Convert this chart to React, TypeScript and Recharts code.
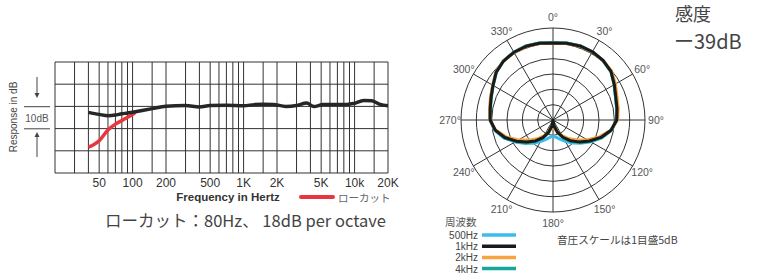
import React from 'react';
import {
  LineChart, Line, XAxis, YAxis, ReferenceLine,
  RadarChart, Radar, PolarGrid, PolarAngleAxis, PolarRadiusAxis,
} from 'recharts';

const FONT = '"Noto Sans CJK JP", "Noto Sans", sans-serif';
const LATIN = '"Liberation Sans", "Noto Sans", sans-serif';

// frequency response, dB
const respFreqs = [40, 50, 60, 70, 80, 90, 100, 150, 200, 300, 400, 500, 700, 1000, 1250, 1500, 1850, 2400, 3000, 3700, 4300, 5200, 6900, 8500, 9800, 12100, 14300, 17000, 20000];
const respDb = [-2.7, -3.6, -4.2, -3.9, -3.3, -3.0, -2.6, -1.0, 0.1, 0.4, -0.3, 0.4, 0.5, 0.3, 0.8, 1.0, 0.9, 0.0, 0.4, 1.5, -0.1, 0.8, 0.8, 0.9, 1.3, 2.7, 2.5, 0.9, 0.3];
const lowCutFreqs = [40, 50, 60, 70, 80, 90, 100, 106];
const lowCutDb = [-18.4, -15.5, -10.6, -8.0, -6.4, -4.9, -3.6, -2.8];

const gridFreqs = [20, 30, 40, 50, 60, 70, 80, 90, 100, 150, 200, 300, 400, 500, 600, 700, 800, 900, 1000, 1500, 2000, 3000, 4000, 5000, 6000, 7000, 8000, 9000, 10000, 15000, 20000];
const freqTicks = [50, 100, 200, 500, 1000, 2000, 5000, 10000, 20000];
const freqTickLabels = ['50', '100', '200', '500', '1K', '2K', '5K', '10k', '20K'];
const dbTicks = [-30, -20, -10, 0, 10, 20];

// polar pattern, dB (outer ring = 0dB, 5dB per ring)
const polarAngles = [0, 10, 20, 30, 40, 50, 60, 70, 80, 90, 100, 110, 120, 130, 140, 150, 160, 170, 180, 190, 200, 210, 220, 230, 240, 250, 260, 270, 280, 290, 300, 310, 320, 330, 340, 350];
const polar500 = [-4.8, -4.5, -4.3, -4.3, -4.6, -5.3, -6.9, -8.3, -8.9, -9.2, -10.6, -13.0, -15.8, -18.2, -20.2, -22.0, -23.4, -24.3, -24.6, -24.3, -23.3, -21.9, -20.1, -18.1, -15.7, -12.9, -10.7, -9.4, -9.1, -8.4, -7.3, -5.7, -4.8, -4.4, -4.3, -4.5];
const polar1k = [-4.9, -4.6, -4.3, -4.3, -4.6, -5.3, -6.9, -8.2, -8.8, -9.2, -10.8, -13.4, -16.3, -18.9, -21.2, -23.5, -25.8, -28.0, -30, -28.0, -25.7, -23.4, -21.1, -18.8, -16.2, -13.3, -10.9, -9.5, -9.2, -8.5, -7.4, -5.8, -4.9, -4.5, -4.4, -4.6];
const polar2k = [-5.0, -4.7, -4.4, -4.4, -4.6, -5.1, -6.5, -7.8, -8.4, -8.9, -10.9, -13.9, -17.1, -19.9, -22.1, -24.1, -25.9, -27.2, -29.5, -27.3, -25.8, -24.0, -22.0, -19.8, -17.0, -13.8, -11.0, -9.4, -9.0, -8.3, -7.3, -5.7, -4.9, -4.6, -4.5, -4.7];
const polar4k = [-4.8, -4.5, -4.2, -4.3, -4.7, -5.4, -7.0, -8.3, -8.9, -9.3, -10.7, -13.2, -16.0, -18.6, -20.9, -23.2, -25.6, -28.0, -30, -28.0, -25.5, -23.1, -20.8, -18.5, -15.9, -13.1, -10.8, -9.6, -9.3, -8.6, -7.5, -5.9, -4.9, -4.5, -4.3, -4.5];

const polarSeries = [
  { key: 'f500', name: '500Hz', color: '#3cbcee' },
  { key: 'f1k', name: '1kHz', color: '#1a1a1a' },
  { key: 'f2k', name: '2kHz', color: '#f7a440' },
  { key: 'f4k', name: '4kHz', color: '#16a69a' },
];
const drawOrder = ['f500', 'f4k', 'f2k', 'f1k'];

const respData = respFreqs.map((f, i) => ({ f, db: respDb[i] }));
const lowCutData = lowCutFreqs.map((f, i) => ({ f, db: lowCutDb[i] }));
const polarData = polarAngles.map((a, i) => ({
  angle: a, f500: polar500[i], f1k: polar1k[i], f2k: polar2k[i], f4k: polar4k[i],
}));

const spokeAngles = polarAngles.filter((a) => a % 30 === 0 && a % 90 !== 0).map((a) => 90 - a);
const axisAngles = polarAngles.filter((a) => a % 90 === 0).map((a) => 90 - a);

const AngleTick = (props: any) => {
  const { x, y, payload } = props;
  const deg = Number(payload.value);
  if (deg % 30 !== 0) return <g />;
  return (
    <text x={x} y={y} textAnchor="middle" dominantBaseline="central" fontSize={10.5} fill="#555" fontFamily={LATIN}>
      {deg}°
    </text>
  );
};

export default function App() {
  return (
    <div style={{ position: 'absolute', left: 0, top: 0, width: 760, height: 280, background: '#fff', fontFamily: FONT }}>
      <div style={{ position: 'absolute', left: 0, top: 0 }}>
        <LineChart width={400} height={200} margin={{ top: 62, right: 12, left: 55, bottom: 7 }}>
          {dbTicks.map((d) => (
            <ReferenceLine key={'y' + d} y={d} stroke="#333" strokeWidth={1} />
          ))}
          {gridFreqs.map((f) => (
            <ReferenceLine key={f} x={f} stroke="#333" strokeWidth={1} />
          ))}
          <XAxis
            dataKey="f"
            type="number"
            scale="log"
            domain={[20, 20000]}
            allowDataOverflow
            ticks={freqTicks}
            interval={0}
            tickFormatter={(v: number) => freqTickLabels[freqTicks.indexOf(v)] ?? ''}
            axisLine={false}
            tickLine={false}
            tickSize={4}
            tickMargin={1}
            height={20}
            tick={{ fontSize: 12, fill: '#333', fontFamily: LATIN }}
          />
          <YAxis hide type="number" domain={[-30, 20]} ticks={dbTicks} allowDataOverflow />
          <Line data={lowCutData} dataKey="db" type="monotone" stroke="#e8363f" strokeWidth={3.5} dot={false} isAnimationActive={false} />
          <Line data={respData} dataKey="db" type="monotone" stroke="#262626" strokeWidth={3.5} dot={false} isAnimationActive={false} />
        </LineChart>
      </div>

      <div style={{ position: 'absolute', left: 433, top: 0 }}>
        <RadarChart width={240} height={240} cx={120} cy={120} outerRadius={92} startAngle={90} endAngle={-270} data={polarData} margin={{ top: 0, right: 0, bottom: 0, left: 0 }}>
          <PolarGrid gridType="circle" polarAngles={spokeAngles} innerRadius={15.3} stroke="#333" strokeOpacity={1} />
          <PolarGrid gridType="circle" polarAngles={axisAngles} polarRadius={[0]} stroke="#333" strokeOpacity={1} />
          <PolarRadiusAxis domain={[-30, 0]} tickCount={7} allowDataOverflow tick={false} axisLine={false} />
          <PolarAngleAxis dataKey="angle" tick={<AngleTick />} tickLine={false} axisLine={false} tickSize={11} />
          {drawOrder.map((k) => {
            const s = polarSeries.find((p) => p.key === k)!;
            return (
              <Radar key={k} dataKey={k} stroke={s.color} strokeWidth={3} strokeLinejoin="round" fill="none" fillOpacity={0} dot={false} isAnimationActive={false} />
            );
          })}
        </RadarChart>
      </div>

      <svg width={760} height={280} style={{ position: 'absolute', left: 0, top: 0, pointerEvents: 'none' }} fontFamily={FONT}>
        {/* y label and 10dB bracket */}
        <text transform="translate(17,117) rotate(-90)" textAnchor="middle" fontSize={10} fontFamily={LATIN} fill="#444">Response in dB</text>
        <line x1={24} y1={106.7} x2={50} y2={106.7} stroke="#444" strokeWidth={1} />
        <line x1={24} y1={128.8} x2={50} y2={128.8} stroke="#444" strokeWidth={1} />
        <line x1={37} y1={77} x2={37} y2={94} stroke="#444" strokeWidth={1} />
        <path d="M34.5,93 L39.5,93 L37,98 Z" fill="#444" />
        <line x1={37} y1={136} x2={37} y2={157} stroke="#444" strokeWidth={1} />
        <path d="M34.5,137 L39.5,137 L37,132 Z" fill="#444" />
        <text x={37} y={121.5} textAnchor="middle" fontSize={10} fontFamily={LATIN} fill="#555">10dB</text>

        <text x={228} y={201} textAnchor="middle" fontSize={11.5} fontWeight="bold" fontFamily={LATIN} fill="#333">Frequency in Hertz</text>
        <line x1={301} y1={197} x2={333} y2={197} stroke="#e8363f" strokeWidth={4} strokeLinecap="round" />
        <text x={338} y={202} fontSize={10.5} fill="#666">ローカット</text>
        <text x={105} y={227} fontSize={16.5} fill="#444">ローカット：80Hz、 18dB per octave</text>

        <text x={675} y={20.5} fontSize={18} fill="#444">感度</text>
        <text x={674} y={49} fontSize={20} fill="#444">ー39dB</text>

        <text x={445} y={226} fontSize={10.5} fill="#555">周波数</text>
        {polarSeries.map((s, i) => (
          <g key={s.key}>
            <text x={478} y={239 + i * 11.2} textAnchor="end" fontSize={10} fontFamily={LATIN} fill="#444">{s.name}</text>
            <line x1={482} y1={235 + i * 11.2} x2={516} y2={235 + i * 11.2} stroke={s.color} strokeWidth={3.5} />
          </g>
        ))}
        <text x={557} y={244} fontSize={10.6} fill="#444">音圧スケールは1目盛5dB</text>
      </svg>
    </div>
  );
}
